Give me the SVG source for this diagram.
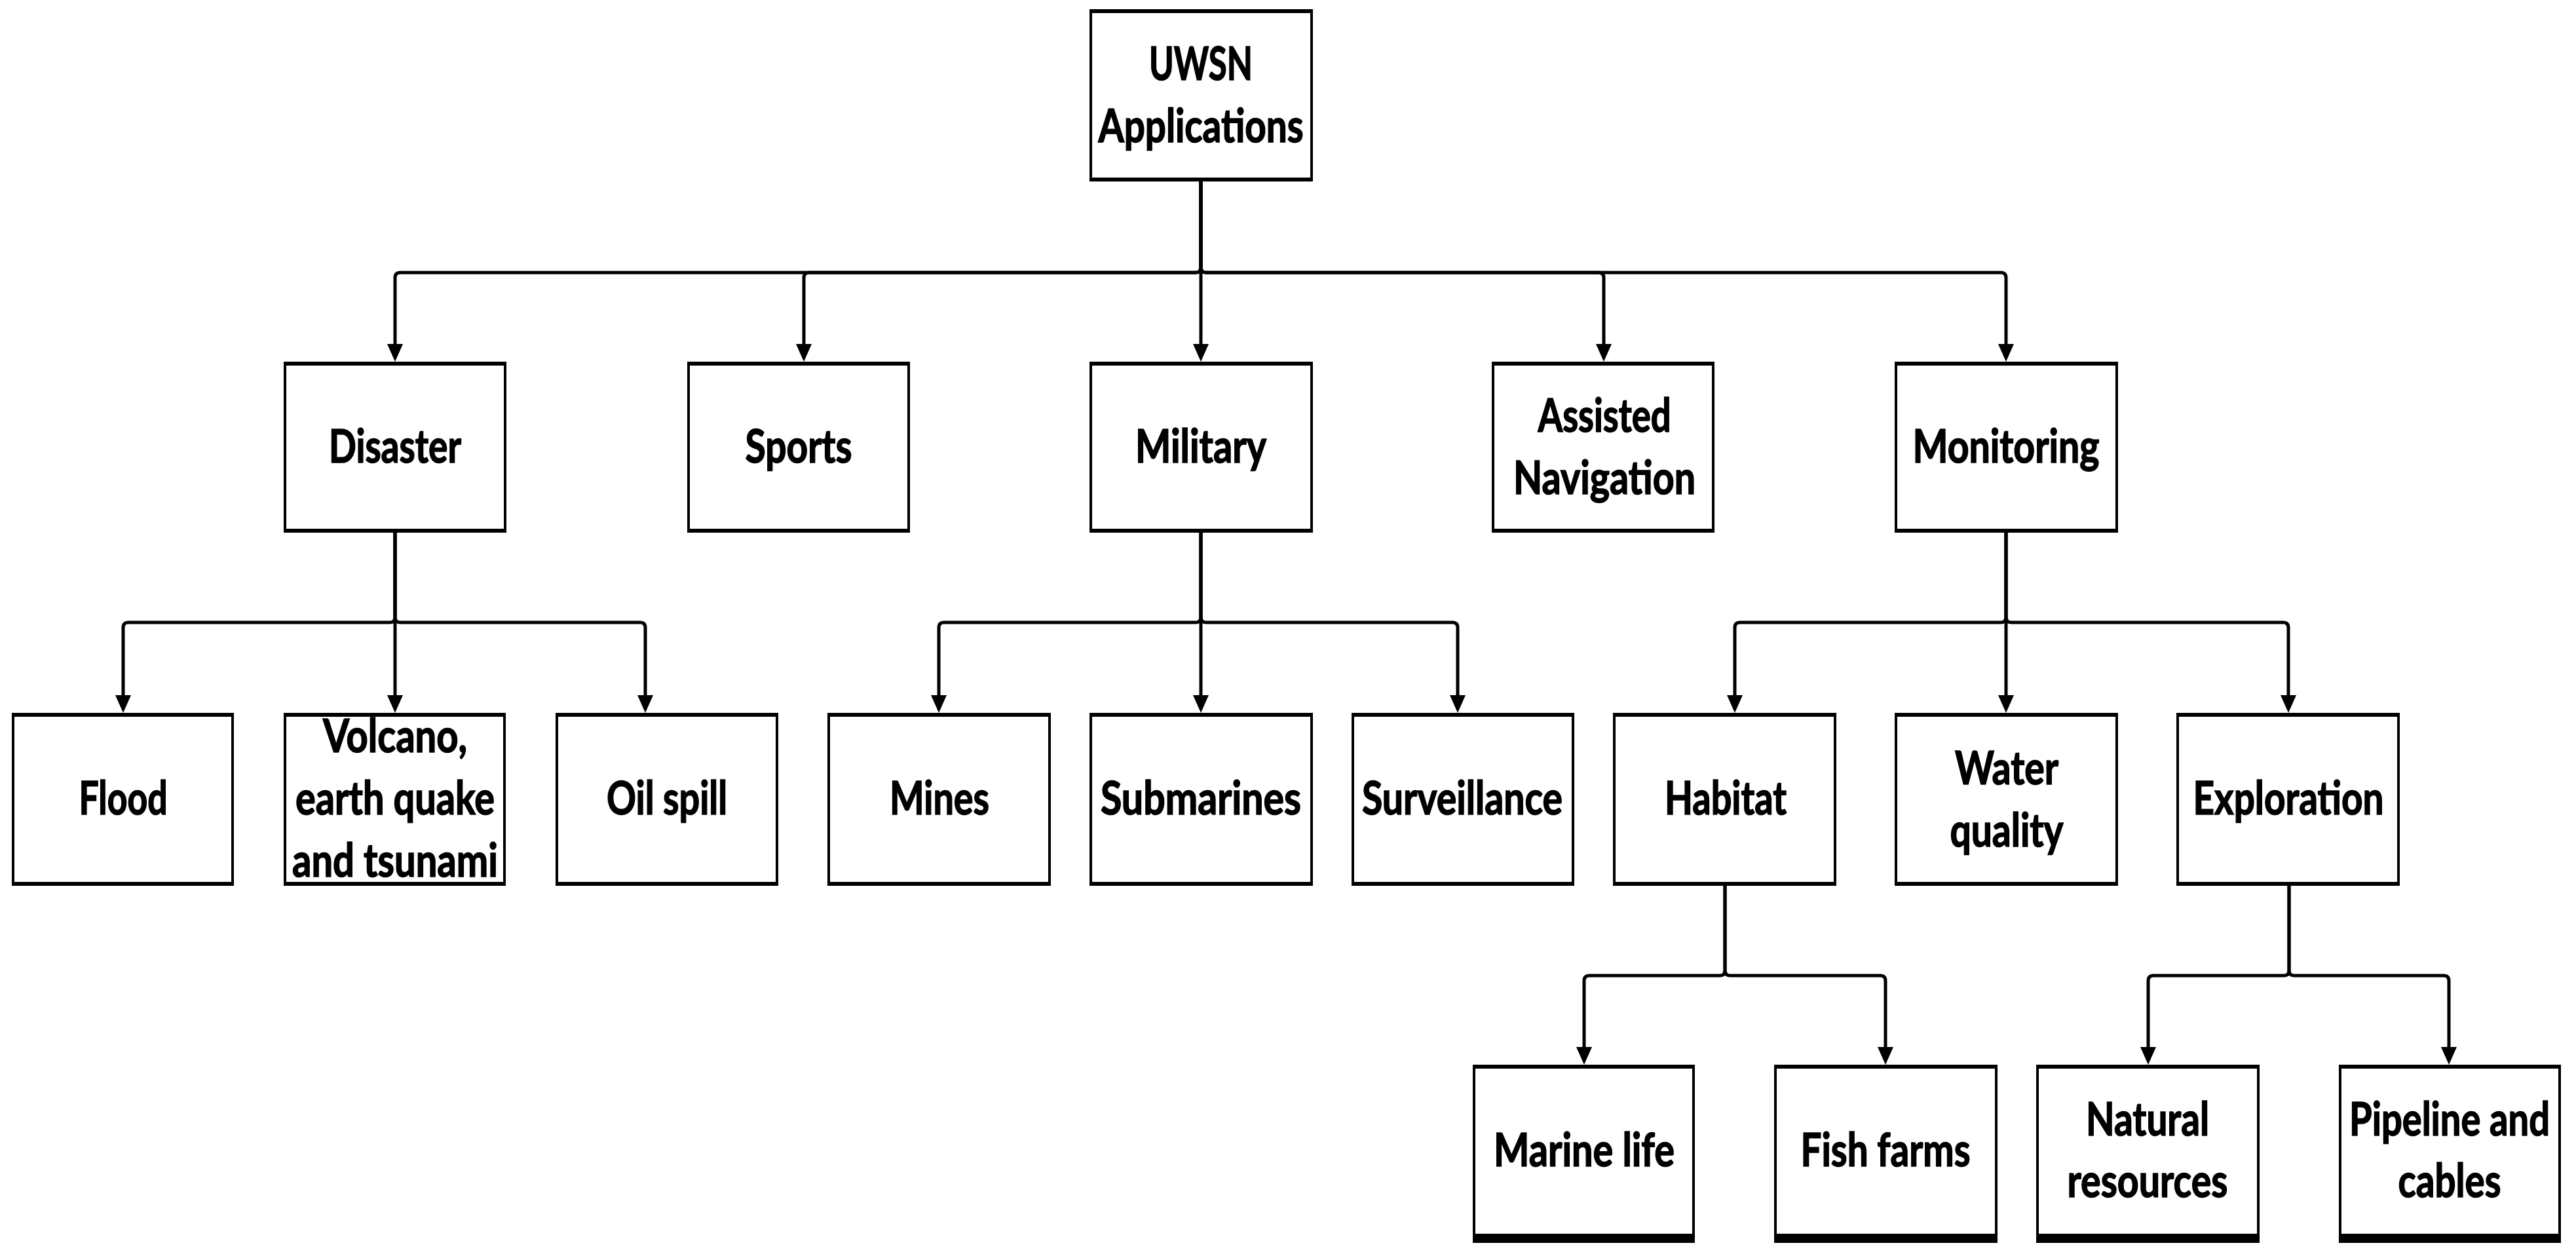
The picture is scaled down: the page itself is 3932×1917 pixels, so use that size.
<svg xmlns="http://www.w3.org/2000/svg" width="3932" height="1917" viewBox="0 0 3932 1917">
<style>
  .bx rect { fill: #fff; stroke: #000; stroke-width: 4; }
  .bx path { fill: none; stroke: #000; stroke-width: 6; }
  .bx path.thick { stroke-width: 14; }
  .bx text { font-family: "Lato", "Open Sans", "Liberation Sans", sans-serif; font-weight: bold; font-size: 70px; fill: #000; stroke: #000; stroke-width: 1.6; text-anchor: middle; }
  #connectors path { fill: none; stroke: #000; stroke-width: 5; stroke-linejoin: round; marker-end: url(#arr); }
</style>
<defs>
  <marker id="arr" markerUnits="userSpaceOnUse" markerWidth="30" markerHeight="30" refX="0" refY="12" orient="auto" overflow="visible">
    <path d="M0,0 L27,12 L0,24 Z" fill="#000"/>
  </marker>
</defs>
<rect width="3932" height="1917" fill="#fff"/>

<g id="connectors">
  <path d="M1833,277 V408 Q1833,416 1825,416 H611 Q603,416 603,424 V525"/>
  <path d="M1833,277 V408 Q1833,416 1825,416 H1235 Q1227,416 1227,424 V525"/>
  <path d="M1833,277 V525"/>
  <path d="M1833,277 V408 Q1833,416 1841,416 H2440 Q2448,416 2448,424 V525"/>
  <path d="M1833,277 V408 Q1833,416 1841,416 H3054 Q3062,416 3062,424 V525"/>
  <path d="M603,813 V942 Q603,950 595,950 H196 Q188,950 188,958 V1061"/>
  <path d="M603,813 V1061"/>
  <path d="M603,813 V942 Q603,950 611,950 H977 Q985,950 985,958 V1061"/>
  <path d="M1833,813 V942 Q1833,950 1825,950 H1441 Q1433,950 1433,958 V1061"/>
  <path d="M1833,813 V1061"/>
  <path d="M1833,813 V942 Q1833,950 1841,950 H2217 Q2225,950 2225,958 V1061"/>
  <path d="M3062,813 V942 Q3062,950 3054,950 H2656 Q2648,950 2648,958 V1061"/>
  <path d="M3062,813 V1061"/>
  <path d="M3062,813 V942 Q3062,950 3070,950 H3485 Q3493,950 3493,958 V1061"/>
  <path d="M2633,1352 V1481 Q2633,1489 2625,1489 H2426 Q2418,1489 2418,1497 V1598"/>
  <path d="M2633,1352 V1481 Q2633,1489 2641,1489 H2870 Q2878,1489 2878,1497 V1598"/>
  <path d="M3494,1352 V1481 Q3494,1489 3486,1489 H3287 Q3279,1489 3279,1497 V1598"/>
  <path d="M3494,1352 V1481 Q3494,1489 3502,1489 H3730 Q3738,1489 3738,1497 V1598"/>
</g>

<g id="n-root" class="bx">
  <rect x="1665" y="17" width="337" height="257"/>
  <path d="M1663,17 H2004 M1663,274 H2004"/>
  <text x="1833" y="122" textLength="158" lengthAdjust="spacingAndGlyphs">UWSN</text>
  <text x="1833" y="217" textLength="313" lengthAdjust="spacingAndGlyphs">Applications</text>
</g>

<g id="n-disaster" class="bx">
  <rect x="435" y="555" width="336" height="255"/>
  <path d="M433,555 H773 M433,810 H773"/>
  <text x="603" y="706" textLength="202" lengthAdjust="spacingAndGlyphs">Disaster</text>
</g>
<g id="n-sports" class="bx">
  <rect x="1051" y="555" width="336" height="255"/>
  <path d="M1049,555 H1389 M1049,810 H1389"/>
  <text x="1219" y="706" textLength="163" lengthAdjust="spacingAndGlyphs">Sports</text>
</g>
<g id="n-military" class="bx">
  <rect x="1665" y="555" width="337" height="255"/>
  <path d="M1663,555 H2004 M1663,810 H2004"/>
  <text x="1833" y="706" textLength="200" lengthAdjust="spacingAndGlyphs">Military</text>
</g>
<g id="n-assisted" class="bx">
  <rect x="2279" y="555" width="336" height="255"/>
  <path d="M2277,555 H2617 M2277,810 H2617"/>
  <text x="2449" y="659" textLength="203" lengthAdjust="spacingAndGlyphs">Assisted</text>
  <text x="2449" y="754" textLength="278" lengthAdjust="spacingAndGlyphs">Navigation</text>
</g>
<g id="n-monitoring" class="bx">
  <rect x="2894" y="555" width="337" height="255"/>
  <path d="M2892,555 H3233 M2892,810 H3233"/>
  <text x="3062" y="706" textLength="285" lengthAdjust="spacingAndGlyphs">Monitoring</text>
</g>

<g id="n-flood" class="bx">
  <rect x="20" y="1091" width="335" height="258"/>
  <path d="M18,1091 H357 M18,1349 H357"/>
  <text x="188" y="1243" textLength="135" lengthAdjust="spacingAndGlyphs">Flood</text>
</g>
<g id="n-volcano" class="bx">
  <rect x="435" y="1091" width="335" height="258"/>
  <path d="M433,1091 H772 M433,1349 H772"/>
  <text x="603" y="1148" textLength="220" lengthAdjust="spacingAndGlyphs">Volcano,</text>
  <text x="603" y="1243" textLength="304" lengthAdjust="spacingAndGlyphs">earth quake</text>
  <text x="603" y="1338" textLength="314" lengthAdjust="spacingAndGlyphs">and tsunami</text>
</g>
<g id="n-oilspill" class="bx">
  <rect x="850" y="1091" width="336" height="258"/>
  <path d="M848,1091 H1188 M848,1349 H1188"/>
  <text x="1018" y="1243" textLength="184" lengthAdjust="spacingAndGlyphs">Oil spill</text>
</g>
<g id="n-mines" class="bx">
  <rect x="1265" y="1091" width="337" height="258"/>
  <path d="M1263,1091 H1604 M1263,1349 H1604"/>
  <text x="1434" y="1243" textLength="152" lengthAdjust="spacingAndGlyphs">Mines</text>
</g>
<g id="n-submarines" class="bx">
  <rect x="1665" y="1091" width="337" height="258"/>
  <path d="M1663,1091 H2004 M1663,1349 H2004"/>
  <text x="1833" y="1243" textLength="306" lengthAdjust="spacingAndGlyphs">Submarines</text>
</g>
<g id="n-surveillance" class="bx">
  <rect x="2065" y="1091" width="336" height="258"/>
  <path d="M2063,1091 H2403 M2063,1349 H2403"/>
  <text x="2232" y="1243" textLength="306" lengthAdjust="spacingAndGlyphs">Surveillance</text>
</g>
<g id="n-habitat" class="bx">
  <rect x="2464" y="1091" width="337" height="258"/>
  <path d="M2462,1091 H2803 M2462,1349 H2803"/>
  <text x="2634" y="1243" textLength="186" lengthAdjust="spacingAndGlyphs">Habitat</text>
</g>
<g id="n-water" class="bx">
  <rect x="2894" y="1091" width="337" height="258"/>
  <path d="M2892,1091 H3233 M2892,1349 H3233"/>
  <text x="3063" y="1197" textLength="158" lengthAdjust="spacingAndGlyphs">Water</text>
  <text x="3063" y="1292" textLength="173" lengthAdjust="spacingAndGlyphs">quality</text>
</g>
<g id="n-exploration" class="bx">
  <rect x="3324" y="1091" width="337" height="258"/>
  <path d="M3322,1091 H3663 M3322,1349 H3663"/>
  <text x="3493" y="1243" textLength="291" lengthAdjust="spacingAndGlyphs">Exploration</text>
</g>

<g id="n-marine" class="bx">
  <rect x="2250" y="1628" width="335" height="262"/>
  <path d="M2248,1628 H2587"/>
  <path class="thick" d="M2248,1890 H2587"/>
  <text x="2418" y="1780" textLength="276" lengthAdjust="spacingAndGlyphs">Marine life</text>
</g>
<g id="n-fish" class="bx">
  <rect x="2710" y="1628" width="337" height="262"/>
  <path d="M2708,1628 H3049"/>
  <path class="thick" d="M2708,1890 H3049"/>
  <text x="2878" y="1780" textLength="259" lengthAdjust="spacingAndGlyphs">Fish farms</text>
</g>
<g id="n-natural" class="bx">
  <rect x="3110" y="1628" width="337" height="262"/>
  <path d="M3108,1628 H3449"/>
  <path class="thick" d="M3108,1890 H3449"/>
  <text x="3278" y="1733" textLength="188" lengthAdjust="spacingAndGlyphs">Natural</text>
  <text x="3278" y="1827" textLength="245" lengthAdjust="spacingAndGlyphs">resources</text>
</g>
<g id="n-pipeline" class="bx">
  <rect x="3572" y="1628" width="335" height="262"/>
  <path d="M3570,1628 H3909"/>
  <path class="thick" d="M3570,1890 H3909"/>
  <text x="3739" y="1733" textLength="306" lengthAdjust="spacingAndGlyphs">Pipeline and</text>
  <text x="3739" y="1827" textLength="157" lengthAdjust="spacingAndGlyphs">cables</text>
</g>
</svg>
